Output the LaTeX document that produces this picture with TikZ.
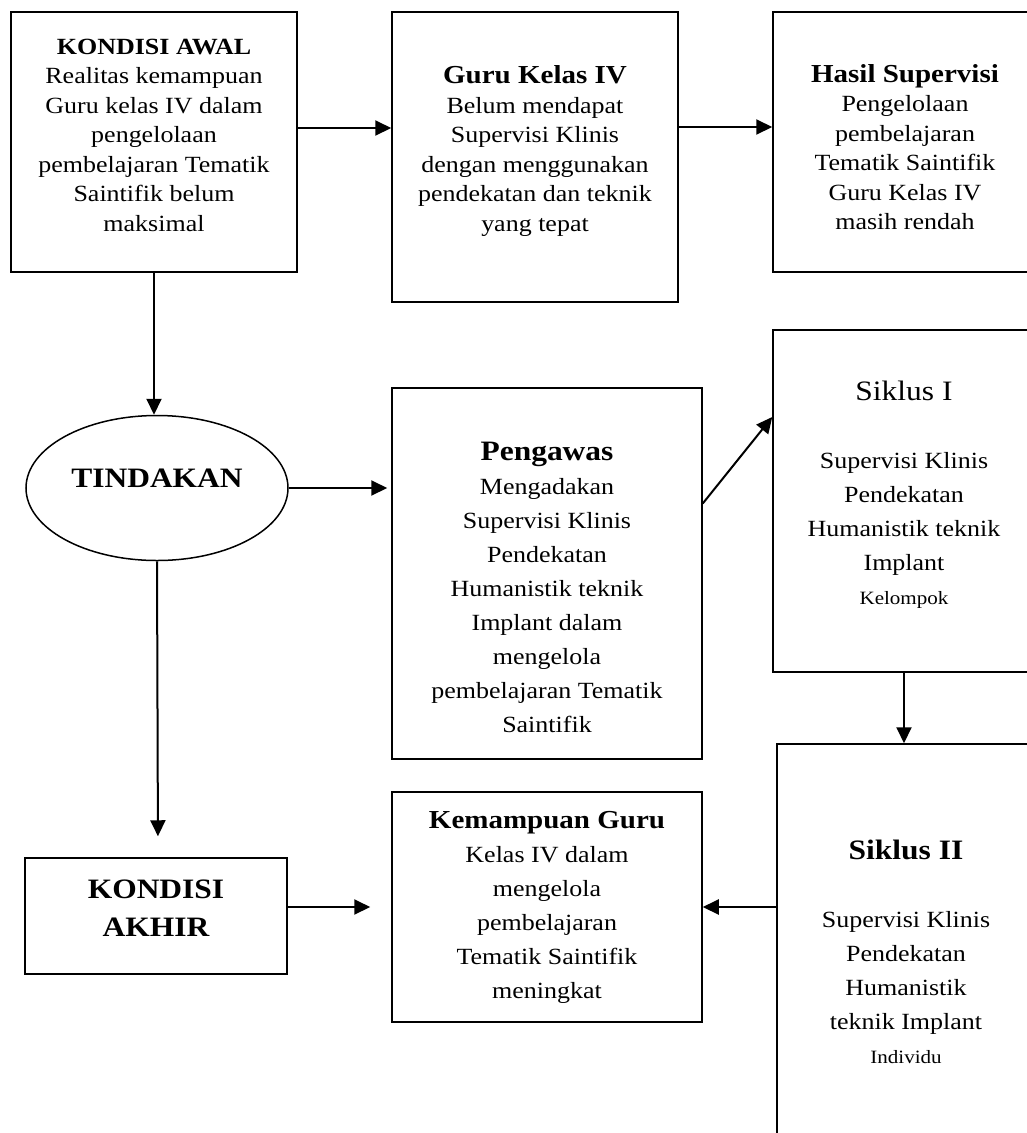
\documentclass[tikz,border=0pt]{standalone}
\usepackage{fontspec}
\setmainfont{Liberation Serif}[FakeStretch=1.12]
\usepackage{tikz}
\usetikzlibrary{positioning, arrows.meta, shapes.geometric}

\newcommand{\txtbig}{\fontsize{28.1}{34}\selectfont}
\newcommand{\txtmid}{\fontsize{25.9}{30}\selectfont}
\newcommand{\txtsmall}{\fontsize{18.8}{30}\selectfont}
\newcommand{\up}[1]{\rule[-#1]{0pt}{0pt}}
\newcommand{\down}[1]{\rule{0pt}{#1}}

\begin{document}
\begin{tikzpicture}[
    x=1pt, y=-1pt,
    box/.style={rectangle, draw, line width=1.5pt, align=center, font=\fontsize{23.2}{29.5}\selectfont},
    wide/.style={font=\fontsize{23.2}{34}\selectfont},
    arr/.style={-{Triangle[length=16pt, width=15pt]}, line width=2pt},
]

\useasboundingbox (0,0) rectangle (1027,1133);

\node[box, minimum width=286pt, minimum height=260pt] (awal) at (154, 142) {\textbf{KONDISI AWAL}\\Realitas kemampuan\\Guru kelas IV dalam\\pengelolaan\\pembelajaran Tematik\\Saintifik belum\\maksimal\up{14pt}};
\node[box, minimum width=286pt, minimum height=290pt] (guru) at (535, 157) {{\txtmid\bfseries Guru Kelas IV}\\Belum mendapat\\Supervisi Klinis\\dengan menggunakan\\pendekatan dan teknik\\yang tepat\up{17pt}};
\node[box, minimum width=264pt, minimum height=260pt] (hasil) at (905, 142) {\down{28pt}{\txtmid\bfseries Hasil Supervisi}\\Pengelolaan\\pembelajaran\\Tematik Saintifik\\Guru Kelas IV\\masih rendah};

\node[ellipse, draw, line width=1.5pt, minimum width=262pt, minimum height=145pt, font=\txtbig\bfseries] (tindakan) at (157, 488) {TINDAKAN\up{20pt}};
\node[box, wide, minimum width=310pt, minimum height=371pt] (pengawas) at (547, 573.5) {\down{47pt}{\txtbig\bfseries Pengawas}\\Mengadakan\\Supervisi Klinis\\Pendekatan\\Humanistik teknik\\Implant dalam\\mengelola\\pembelajaran Tematik\\Saintifik};
\node[box, wide, minimum width=262pt, minimum height=342pt] (siklus1) at (904, 501) {{\txtbig Siklus I}\\[34pt]Supervisi Klinis\\Pendekatan\\Humanistik teknik\\Implant\\{\txtsmall Kelompok}\up{16pt}};

\node[box, font=\fontsize{28.1}{38}\selectfont\bfseries, minimum width=262pt, minimum height=116pt] (akhir) at (156, 916) {KONDISI\\AKHIR\up{16pt}};
\node[box, wide, minimum width=310pt, minimum height=230pt] (kemampuan) at (547, 907) {{\txtmid\bfseries Kemampuan Guru}\\Kelas IV dalam\\mengelola\\pembelajaran\\Tematik Saintifik\\meningkat};
\node[box, wide, minimum width=258pt, minimum height=416pt] (siklus2) at (906, 952) {{\txtbig\bfseries Siklus II}\\[34pt]Supervisi Klinis\\Pendekatan\\Humanistik\\teknik Implant\\{\txtsmall Individu}};

\draw[arr] ([yshift=14pt]awal.east) -- ([yshift=14pt]awal.east -| guru.west);
\draw[arr] ([yshift=15pt]hasil.west -| guru.east) -- ([yshift=15pt]hasil.west);
\draw[arr] (awal.south) -- (awal.south |- tindakan.north);
\draw[arr, shorten >=4pt] (tindakan.east) -- (tindakan.east -| pengawas.west);
\draw[arr] ([yshift=70pt]pengawas.east) -- ([yshift=84pt]siklus1.west);
\draw[arr] (siklus1.south) -- (siklus1.south |- siklus2.north);
\draw[arr, shorten >=21pt] (tindakan.south) -- ([xshift=2pt]akhir.north);
\draw[arr, shorten >=21pt] ([yshift=9pt]akhir.east) -- ([yshift=9pt]akhir.east -| kemampuan.west);
\draw[arr] (kemampuan.east -| siklus2.west) -- (kemampuan.east);

\end{tikzpicture}
\end{document}
